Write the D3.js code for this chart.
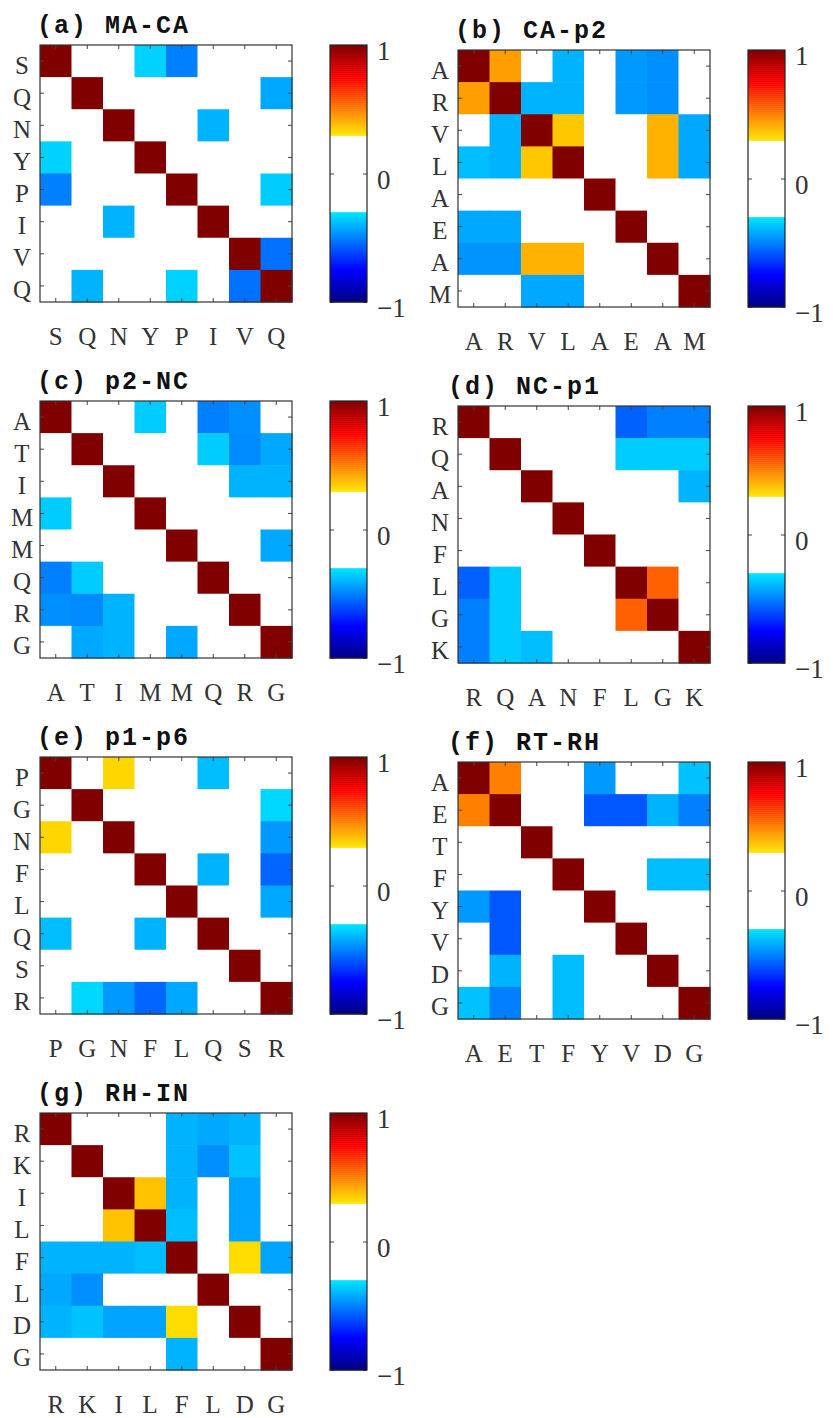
<!DOCTYPE html>
<html>
<head>
<meta charset="utf-8">
<script src="https://cdn.jsdelivr.net/npm/d3@7"></script>
<style>
  body { margin: 0; background: #fff; }
</style>
</head>
<body>
<div id="chart"></div>
<script>
// residue labels and correlation matrices, one per cleavage site
const titles = ['(a) MA-CA', '(b) CA-p2', '(c) p2-NC', '(d) NC-p1', '(e) p1-p6', '(f) RT-RH', '(g) RH-IN']

const labelsA = ['S', 'Q', 'N', 'Y', 'P', 'I', 'V', 'Q']
const valuesA = [
    [1, 0, 0, -0.34, -0.5, 0, 0, 0],
    [0, 1, 0, 0, 0, 0, 0, -0.42],
    [0, 0, 1, 0, 0, -0.4, 0, 0],
    [-0.34, 0, 0, 1, 0, 0, 0, 0],
    [-0.5, 0, 0, 0, 1, 0, 0, -0.35],
    [0, 0, -0.4, 0, 0, 1, 0, 0],
    [0, 0, 0, 0, 0, 0, 1, -0.53],
    [0, -0.4, 0, 0, -0.34, 0, -0.53, 1]
]

const labelsB = ['A', 'R', 'V', 'L', 'A', 'E', 'A', 'M']
const valuesB = [
    [1, 0.44, 0, -0.4, 0, -0.45, -0.47, 0],
    [0.44, 1, -0.4, -0.4, 0, -0.45, -0.47, 0],
    [0, -0.4, 1, 0.36, 0, 0, 0.4, -0.42],
    [-0.38, -0.4, 0.36, 1, 0, 0, 0.4, -0.42],
    [0, 0, 0, 0, 1, 0, 0, 0],
    [-0.42, -0.42, 0, 0, 0, 1, 0, 0],
    [-0.46, -0.46, 0.4, 0.4, 0, 0, 1, 0],
    [0, 0, -0.42, -0.42, 0, 0, 0, 1]
]

const labelsC = ['A', 'T', 'I', 'M', 'M', 'Q', 'R', 'G']
const valuesC = [
    [1, 0, 0, -0.35, 0, -0.5, -0.47, 0],
    [0, 1, 0, 0, 0, -0.35, -0.48, -0.42],
    [0, 0, 1, 0, 0, 0, -0.4, -0.4],
    [-0.35, 0, 0, 1, 0, 0, 0, 0],
    [0, 0, 0, 0, 1, 0, 0, -0.42],
    [-0.5, -0.35, 0, 0, 0, 1, 0, 0],
    [-0.47, -0.48, -0.4, 0, 0, 0, 1, 0],
    [0, -0.42, -0.4, 0, -0.42, 0, 0, 1]
]

const labelsD = ['R', 'Q', 'A', 'N', 'F', 'L', 'G', 'K']
const valuesD = [
    [1, 0, 0, 0, 0, -0.56, -0.5, -0.5],
    [0, 1, 0, 0, 0, -0.35, -0.35, -0.35],
    [0, 0, 1, 0, 0, 0, 0, -0.4],
    [0, 0, 0, 1, 0, 0, 0, 0],
    [0, 0, 0, 0, 1, 0, 0, 0],
    [-0.56, -0.35, 0, 0, 0, 1, 0.56, 0],
    [-0.5, -0.35, 0, 0, 0, 0.56, 1, 0],
    [-0.5, -0.35, -0.38, 0, 0, 0, 0, 1]
]

const labelsE = ['P', 'G', 'N', 'F', 'L', 'Q', 'S', 'R']
const valuesE = [
    [1, 0, 0.33, 0, 0, -0.38, 0, 0],
    [0, 1, 0, 0, 0, 0, 0, -0.33],
    [0.33, 0, 1, 0, 0, 0, 0, -0.45],
    [0, 0, 0, 1, 0, -0.4, 0, -0.55],
    [0, 0, 0, 0, 1, 0, 0, -0.42],
    [-0.38, 0, 0, -0.4, 0, 1, 0, 0],
    [0, 0, 0, 0, 0, 0, 1, 0],
    [0, -0.33, -0.45, -0.55, -0.42, 0, 0, 1]
]

const labelsF = ['A', 'E', 'T', 'F', 'Y', 'V', 'D', 'G']
const valuesF = [
    [1, 0.5, 0, 0, -0.45, 0, 0, -0.37],
    [0.5, 1, 0, 0, -0.58, -0.58, -0.4, -0.5],
    [0, 0, 1, 0, 0, 0, 0, 0],
    [0, 0, 0, 1, 0, 0, -0.38, -0.38],
    [-0.45, -0.58, 0, 0, 1, 0, 0, 0],
    [0, -0.58, 0, 0, 0, 1, 0, 0],
    [0, -0.4, 0, -0.38, 0, 0, 1, 0],
    [-0.37, -0.5, 0, -0.38, 0, 0, 0, 1]
]

const labelsG = ['R', 'K', 'I', 'L', 'F', 'L', 'D', 'G']
const valuesG = [
    [1, 0, 0, 0, -0.4, -0.42, -0.4, 0],
    [0, 1, 0, 0, -0.4, -0.47, -0.37, 0],
    [0, 0, 1, 0.37, -0.4, 0, -0.43, 0],
    [0, 0, 0.37, 1, -0.38, 0, -0.43, 0],
    [-0.4, -0.4, -0.4, -0.38, 1, 0, 0.32, -0.43],
    [-0.42, -0.47, 0, 0, 0, 1, 0, 0],
    [-0.4, -0.37, -0.43, -0.43, 0.32, 0, 1, 0],
    [0, 0, 0, 0, -0.4, 0, 0, 1]
]

const cbTicks = [-1, 0, 1]

const allLabels = [labelsA, labelsB, labelsC, labelsD, labelsE, labelsF, labelsG]
const allValues = [valuesA, valuesB, valuesC, valuesD, valuesE, valuesF, valuesG]

// where each heatmap sits on the page (tx = title x)
const layout = [
    {x: 40, y: 45, tx: 37},
    {x: 458, y: 50, tx: 455},
    {x: 40, y: 401, tx: 37},
    {x: 458, y: 406, tx: 448},
    {x: 40, y: 757, tx: 37},
    {x: 458, y: 762, tx: 448},
    {x: 40, y: 1113, tx: 37}
]

const panels = titles.map((t, i) => ({title: t, labels: allLabels[i], values: allValues[i], ...layout[i]}))

const W = 252, H = 257
const cbOffset = 290, cbW = 37
const serif = '"Liberation Serif", "DejaVu Serif", serif'

// jet with the middle of the range blanked out
const color = d3.scaleLinear()
    .domain([-1, -0.75, -0.3, -0.2999, 0.2999, 0.3, 0.75, 1])
    .range(['#000080', '#0000ff', '#00e6ff', '#ffffff', '#ffffff', '#ffe600', '#ff0000', '#800000'])
    .clamp(true)

const svg = d3.select('#chart')
    .append('svg')
    .attr('width', 833)
    .attr('height', 1418)

svg.append('rect')
    .attr('width', 833)
    .attr('height', 1418)
    .attr('fill', 'white')

const styleAxis = (g, size) => {
    g.select('.domain').remove()
    g.selectAll('line').attr('stroke', '#444')
    g.selectAll('text')
        .attr('font-family', serif)
        .attr('font-size', size)
        .attr('fill', '#333')
}

panels.forEach(p => {
    const g = svg.append('g')
        .attr('transform', `translate(${p.x} ${p.y})`)

    const x = d3.scaleBand().domain(d3.range(p.labels.length)).range([0, W])
    const y = d3.scaleBand().domain(d3.range(p.labels.length)).range([0, H])

    const cells = p.values.flatMap((row, i) => row.map((v, j) => ({i, j, v})))

    g.selectAll('rect.cell')
        .data(cells)
        .enter()
        .append('rect')
        .attr('class', 'cell')
        .attr('x', d => x(d.j))
        .attr('y', d => y(d.i))
        .attr('width', x.bandwidth() + 0.6)
        .attr('height', y.bandwidth() + 0.6)
        .attr('fill', d => color(d.v))

    g.append('g')
        .call(d3.axisLeft(y).tickSize(-4).tickFormat(i => p.labels[i]))
        .call(a => styleAxis(a, 25))
        .call(a => a.selectAll('text').attr('text-anchor', 'middle').attr('x', -18).attr('dy', '0.5em'))

    g.append('g')
        .attr('transform', `translate(0 ${H})`)
        .call(d3.axisBottom(x).tickSize(-4).tickPadding(25).tickFormat(i => p.labels[i]))
        .call(a => styleAxis(a, 25))

    g.append('g')
        .call(d3.axisTop(x).tickSize(-4).tickFormat(''))
        .call(a => styleAxis(a, 0))

    g.append('g')
        .attr('transform', `translate(${W} 0)`)
        .call(d3.axisRight(y).tickSize(-4).tickFormat(''))
        .call(a => styleAxis(a, 0))

    g.append('rect')
        .attr('width', W)
        .attr('height', H)
        .attr('fill', 'none')
        .attr('stroke', '#333')
        .attr('stroke-width', 1.2)

    // colour bar
    const cb = d3.scaleLinear().domain([-1, 1]).range([H, 0])
    const step = 2 / 128
    const cg = g.append('g')
        .attr('transform', `translate(${cbOffset} 0)`)

    cg.selectAll('rect.step')
        .data(d3.range(128).map(k => -1 + k * step))
        .enter()
        .append('rect')
        .attr('class', 'step')
        .attr('x', 0)
        .attr('y', d => cb(d + step))
        .attr('width', cbW)
        .attr('height', d => cb(d) - cb(d + step) + 0.5)
        .attr('fill', d => color(d + step / 2))

    cg.append('g')
        .attr('transform', `translate(${cbW} 0)`)
        .call(d3.axisRight(cb).tickValues(cbTicks).tickSize(-4).tickPadding(10).tickFormat(d3.format('d')))
        .call(a => styleAxis(a, 27))
        .call(a => a.selectAll('text').attr('dy', '0.55em'))

    cg.append('g')
        .call(d3.axisLeft(cb).tickValues(cbTicks).tickSize(-4).tickFormat(''))
        .call(a => styleAxis(a, 0))

    cg.append('rect')
        .attr('width', cbW)
        .attr('height', H)
        .attr('fill', 'none')
        .attr('stroke', '#222')
        .attr('stroke-width', 1.2)

    svg.append('text')
        .attr('x', p.tx)
        .attr('y', p.y - 12)
        .attr('font-family', '"Liberation Mono", "DejaVu Sans Mono", monospace')
        .attr('font-weight', 'bold')
        .attr('font-size', 25)
        .attr('letter-spacing', 2)
        .attr('fill', '#111')
        .text(p.title)
})
</script>
</body>
</html>
